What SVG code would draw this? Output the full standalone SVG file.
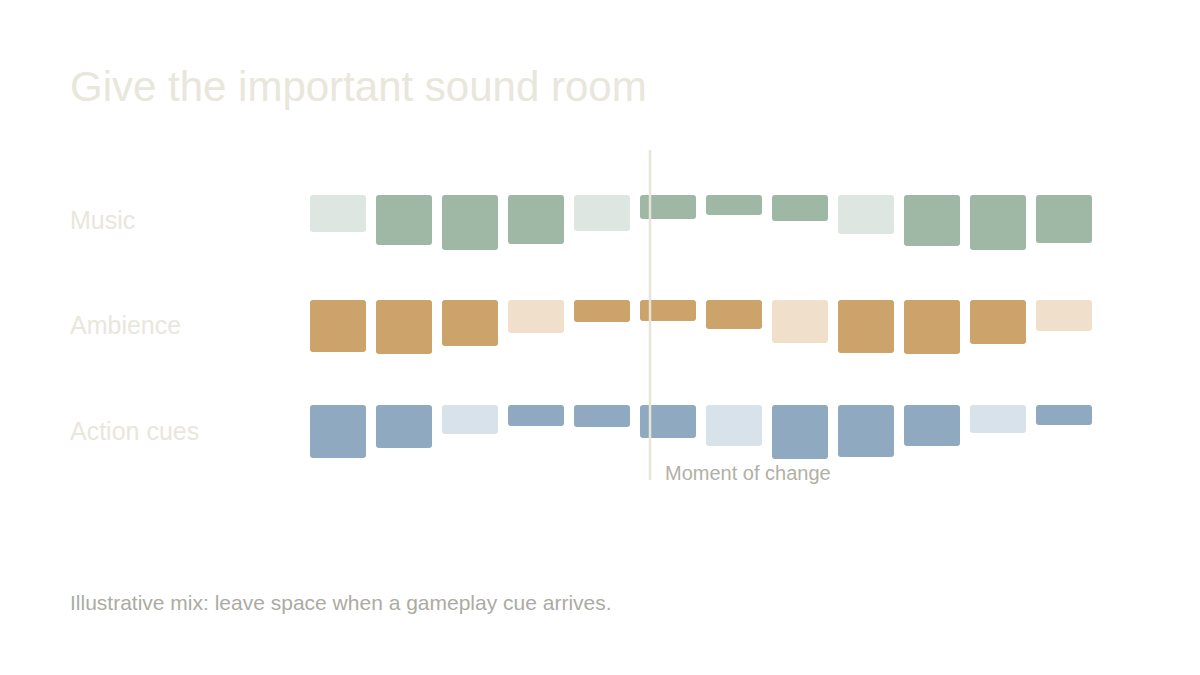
<svg xmlns="http://www.w3.org/2000/svg" width="1200" height="675" viewBox="0 0 1200 675">
<style>
text{font-family:"Liberation Sans",Arial,sans-serif}
.title{font-size:42px;fill:#e9e6dc}
.lab{font-size:25px;fill:#e9e6dc}
.note{font-size:20px;fill:#b2b0a6}
.foot{font-size:21px;fill:#acaba3}
.m{fill:#9fb7a5}.ml{fill:#dde6e1}
.a{fill:#cba36b}.al{fill:#f0e0cb}
.c{fill:#8faac0}.cl{fill:#d8e2ea}
.b{rx:3px;ry:3px}
</style>
<rect width="1200" height="675" fill="#ffffff"/>
<text class="title" x="70" y="101">Give the important sound room</text>
<g id="music">
<text class="lab" x="70" y="229">Music</text>
<rect class="b ml" x="310" y="195" width="56" height="37"/>
<rect class="b m" x="376" y="195" width="56" height="50"/>
<rect class="b m" x="442" y="195" width="56" height="55"/>
<rect class="b m" x="508" y="195" width="56" height="49"/>
<rect class="b ml" x="574" y="195" width="56" height="36"/>
<rect class="b m" x="640" y="195" width="56" height="24"/>
<rect class="b m" x="706" y="195" width="56" height="20"/>
<rect class="b m" x="772" y="195" width="56" height="26"/>
<rect class="b ml" x="838" y="195" width="56" height="39"/>
<rect class="b m" x="904" y="195" width="56" height="51"/>
<rect class="b m" x="970" y="195" width="56" height="55"/>
<rect class="b m" x="1036" y="195" width="56" height="48"/>
</g>
<g id="ambience">
<text class="lab" x="70" y="334">Ambience</text>
<rect class="b a" x="310" y="300" width="56" height="52"/>
<rect class="b a" x="376" y="300" width="56" height="54"/>
<rect class="b a" x="442" y="300" width="56" height="46"/>
<rect class="b al" x="508" y="300" width="56" height="33"/>
<rect class="b a" x="574" y="300" width="56" height="22"/>
<rect class="b a" x="640" y="300" width="56" height="21"/>
<rect class="b a" x="706" y="300" width="56" height="29"/>
<rect class="b al" x="772" y="300" width="56" height="43"/>
<rect class="b a" x="838" y="300" width="56" height="53"/>
<rect class="b a" x="904" y="300" width="56" height="54"/>
<rect class="b a" x="970" y="300" width="56" height="44"/>
<rect class="b al" x="1036" y="300" width="56" height="31"/>
</g>
<g id="action">
<text class="lab" x="70" y="440">Action cues</text>
<rect class="b c" x="310" y="405" width="56" height="53"/>
<rect class="b c" x="376" y="405" width="56" height="43"/>
<rect class="b cl" x="442" y="405" width="56" height="29"/>
<rect class="b c" x="508" y="405" width="56" height="21"/>
<rect class="b c" x="574" y="405" width="56" height="22"/>
<rect class="b c" x="640" y="405" width="56" height="33"/>
<rect class="b cl" x="706" y="405" width="56" height="41"/>
<rect class="b c" x="772" y="405" width="56" height="54"/>
<rect class="b c" x="838" y="405" width="56" height="52"/>
<rect class="b c" x="904" y="405" width="56" height="41"/>
<rect class="b cl" x="970" y="405" width="56" height="28"/>
<rect class="b c" x="1036" y="405" width="56" height="20"/>
</g>
<g id="connectors">
<line x1="650" y1="150" x2="650" y2="480" stroke="#e8e4d8" stroke-width="2.5"/>
</g>
<g id="marker-label">
<text class="note" x="665" y="480">Moment of change</text>
</g>
<text class="foot" x="70" y="610">Illustrative mix: leave space when a gameplay cue arrives.</text>
</svg>
